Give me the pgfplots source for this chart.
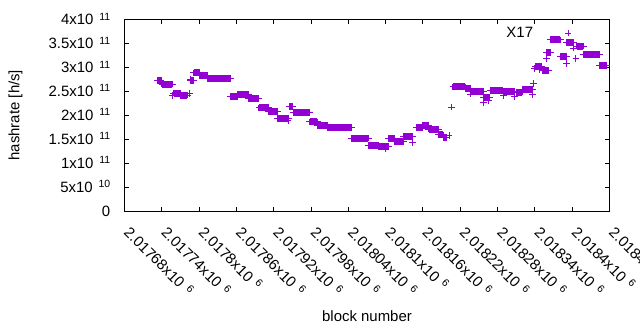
\documentclass[border=0pt]{standalone}
\usepackage{pgfplots}
\usepackage{pgfplotstable}
\pgfplotsset{compat=1.18}
\usepackage{fontspec}
\setmainfont{Liberation Sans}
\definecolor{dv}{HTML}{9400D3}
\newcommand\sups[1]{\hspace{6bp}\raisebox{4.5bp}{\fontsize{10.5}{12}\selectfont #1}}
\pgfplotsset{x17legend/.style={legend image code/.code={\path (0,0); \draw[##1] plot coordinates {(1.15cm,0cm)};}}}
% x = block number - 2017000 ; y = hashrate in units of 1e11 h/s
\pgfplotstableread{
x y
733 2.72
739 2.72
nan nan
740 2.65
757 2.65
nan nan
757 2.41
nan nan
759 2.46
770 2.46
nan nan
770 2.42
781 2.42
nan nan
785 2.45
nan nan
786 2.74
nan nan
786 2.73
791 2.73
nan nan
791 2.88
801 2.88
nan nan
801 2.83
813 2.83
nan nan
813 2.76
850 2.76
nan nan
850 2.38
862 2.38
nan nan
862 2.44
879 2.44
nan nan
879 2.34
896 2.34
nan nan
896 2.15
912 2.15
nan nan
912 2.07
926 2.07
nan nan
926 1.94
944 1.94
nan nan
943 1.88
nan nan
945 2.18
950 2.18
nan nan
952 2.05
978 2.05
nan nan
978 1.86
990 1.86
nan nan
990 1.78
1006 1.78
nan nan
1006 1.745
1045 1.745
nan nan
1045 1.52
1072 1.52
nan nan
1072 1.37
1088 1.37
nan nan
1088 1.34
1105 1.34
nan nan
1100 1.30
nan nan
1105 1.51
1114 1.51
nan nan
1114 1.45
1129 1.45
nan nan
1129 1.55
1143 1.55
nan nan
1143 1.43
nan nan
1150 1.74
1159 1.74
nan nan
1159 1.79
1169 1.79
nan nan
1169 1.71
1185 1.71
nan nan
1185 1.59
1193 1.59
nan nan
1193 1.54
1198 1.54
nan nan
1202 1.57
nan nan
1206 2.17
nan nan
1208 2.59
1228 2.59
nan nan
1228 2.55
1236 2.55
nan nan
1236 2.50
1257 2.50
nan nan
1236 2.44
nan nan
1257 2.27
nan nan
1257 2.37
1267 2.37
nan nan
1266 2.30
nan nan
1269 2.52
1288 2.52
nan nan
1290 2.49
1307 2.49
nan nan
1290 2.41
nan nan
1307 2.39
nan nan
1310 2.48
1320 2.48
nan nan
1320 2.54
1336 2.54
nan nan
1336 2.43
nan nan
1338 2.66
nan nan
1339 2.97
nan nan
1341 3.02
1351 3.02
nan nan
1347 2.95
nan nan
1352 2.93
1362 2.93
nan nan
1359 3.18
nan nan
1359 3.31
1365 3.31
nan nan
1365 3.57
1381 3.57
nan nan
1381 3.23
1391 3.23
nan nan
1391 3.08
nan nan
1391 3.52
1402 3.52
nan nan
1402 3.40
nan nan
1406 3.18
nan nan
1407 3.44
1418 3.44
nan nan
1418 3.27
1444 3.27
nan nan
1444 3.03
1455 3.03
}\hashdata
\begin{document}
\begin{tikzpicture}[font=\fontsize{15}{18}\selectfont]
\useasboundingbox (0,0) rectangle (640bp,330bp);
\begin{axis}[
  at={(124.5bp,119bp)}, anchor=south west,
  scale only axis, width=485bp, height=191.7bp,
  xmin=680, xmax=1460, ymin=0, ymax=4,
  axis line style={black, line width=1bp},
  tick align=inside, major tick length=4.5bp,
  tick style={black, line width=1bp},
  xtick={680,740,...,1460},
  xticklabels={2.01768x10\sups{6},2.01774x10\sups{6},2.0178x10\sups{6},2.01786x10\sups{6},2.01792x10\sups{6},2.01798x10\sups{6},2.01804x10\sups{6},2.0181x10\sups{6},2.01816x10\sups{6},2.01822x10\sups{6},2.01828x10\sups{6},2.01834x10\sups{6},2.0184x10\sups{6},2.01846x10\sups{6}},
  xticklabel shift=4bp,
  xticklabel style={rotate=-45, anchor=north west, inner sep=0pt, xshift=12bp, yshift=-2bp},
  ytick={0,0.5,...,4},
  yticklabels={0,5x10\sups{10},1x10\sups{11},1.5x10\sups{11},2x10\sups{11},2.5x10\sups{11},3x10\sups{11},3.5x10\sups{11},4x10\sups{11}},
  yticklabel style={anchor=base east, inner sep=0pt, xshift=-14bp, yshift=-5.3bp},
  xlabel={block number},
  xlabel style={at={(axis description cs:0.5,0)}, anchor=base, yshift=-110bp},
  ylabel={hashrate [h/s]},
  ylabel style={at={(axis description cs:-0.2245,0.5)}, anchor=center},
  unbounded coords=jump,
  clip=false,
  legend style={draw=none, fill=none, inner sep=0pt, at={(rel axis cs:0.922,0.97)}, anchor=north east},
  legend plot pos=right,
]
\addplot[forget plot, dv, line width=7bp, line cap=butt, no marks] table[x=x,y=y] {\hashdata};
\addplot[only marks, mark=+, dv, mark size=3.3bp, line width=1bp, x17legend]
  table[x=x,y=y] {\hashdata};
\addlegendentry{X17}
\end{axis}
\end{tikzpicture}
\end{document}
